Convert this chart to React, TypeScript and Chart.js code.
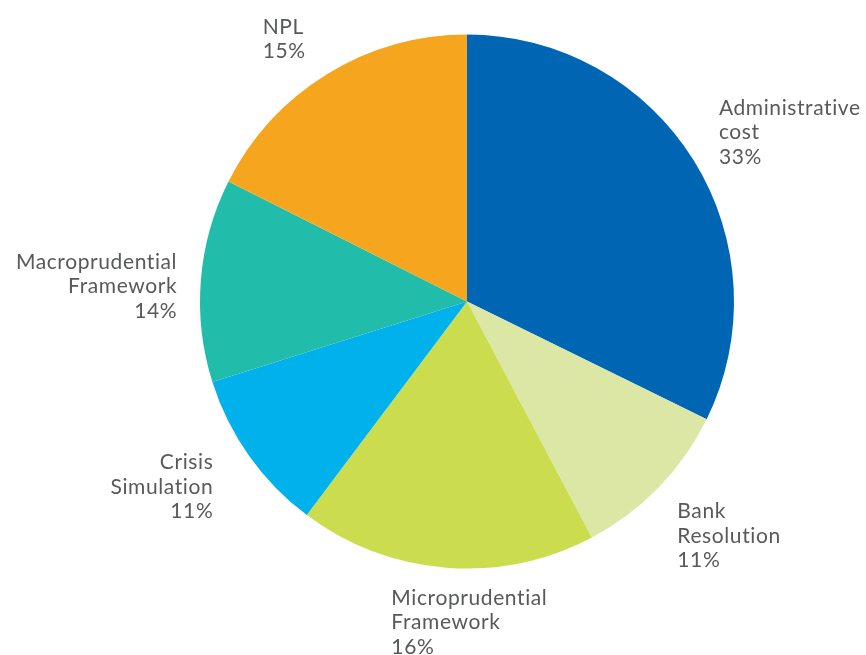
import React, { useEffect, useRef } from "react";
import { Chart, registerables } from "chart.js";

Chart.register(...registerables);

const categories: string[][] = [
  ["Administrative", "cost"],
  ["Bank", "Resolution"],
  ["Microprudential", "Framework"],
  ["Crisis", "Simulation"],
  ["Macroprudential", "Framework"],
  ["NPL"],
];
const sliceValues: number[] = [32.3, 10.0, 18.0, 9.9, 12.3, 17.6];
const percentLabels: string[] = ["33%", "11%", "16%", "11%", "14%", "15%"];
const sliceColors: string[] = ["#0066B3", "#DDE7A5", "#CCDC4F", "#00B1EB", "#22BCAB", "#F6A61E"];
const labelAlign: CanvasTextAlign[] = ["left", "left", "left", "right", "right", "left"];
const labelNudge: number[][] = [[19, 2], [19, 9], [31, -2], [-29, -2], [-4, 11], [-21, 3]];

const FONT = "21px Lato";
const LINE_H = 24.5;
const TEXT_COLOR = "#58595B";

const labelPlugin = {
  id: "outerLabels",
  afterDraw(chart: any) {
    const ctx = chart.ctx;
    const meta = chart.getDatasetMeta(0);
    ctx.save();
    ctx.font = FONT;
    try {
      (ctx as any).letterSpacing = "0.6px";
    } catch (e) {}
    ctx.fillStyle = TEXT_COLOR;
    ctx.textBaseline = "middle";
    meta.data.forEach((arc: any, i: number) => {
      const { x, y, startAngle, endAngle, outerRadius } = arc.getProps(
        ["x", "y", "startAngle", "endAngle", "outerRadius"],
        true
      );
      const mid = (startAngle + endAngle) / 2;
      const ux = Math.cos(mid);
      const uy = Math.sin(mid);
      const lines = [...categories[i], percentLabels[i]];
      const w = Math.max(...lines.map((l) => ctx.measureText(l).width));
      const h = lines.length * LINE_H;
      const gap = 20;
      const cx = x + (outerRadius + gap) * ux + (w / 2) * ux + labelNudge[i][0];
      const cy = y + (outerRadius + gap) * uy + (h / 2) * uy + labelNudge[i][1];
      const left = cx - w / 2;
      const top = cy - h / 2;
      ctx.textAlign = labelAlign[i];
      const tx = labelAlign[i] === "left" ? left : left + w;
      lines.forEach((l, k) => {
        ctx.fillText(l, tx, top + LINE_H * (k + 0.5));
      });
    });
    ctx.restore();
  },
};

export default function App() {
  const ref = useRef<HTMLCanvasElement | null>(null);
  useEffect(() => {
    if (!ref.current) return;
    const chart = new Chart(ref.current, {
      type: "pie",
      data: {
        labels: categories.map((c) => c.join(" ")),
        datasets: [
          {
            data: sliceValues,
            backgroundColor: sliceColors,
            borderWidth: 0,
            hoverOffset: 0,
          },
        ],
      },
      options: {
        responsive: false,
        animation: false,
        layout: { padding: { left: 100, right: 32, top: 34.5, bottom: 86.5 } },
        plugins: {
          legend: { display: false },
          tooltip: { enabled: false },
        },
      },
      plugins: [labelPlugin],
    });
    return () => chart.destroy();
  }, []);
  return (
    <div style={{ position: "fixed", left: 0, top: 0, width: 866, height: 655, background: "#fff" }}>
      <canvas ref={ref} width={866} height={655} />
    </div>
  );
}
